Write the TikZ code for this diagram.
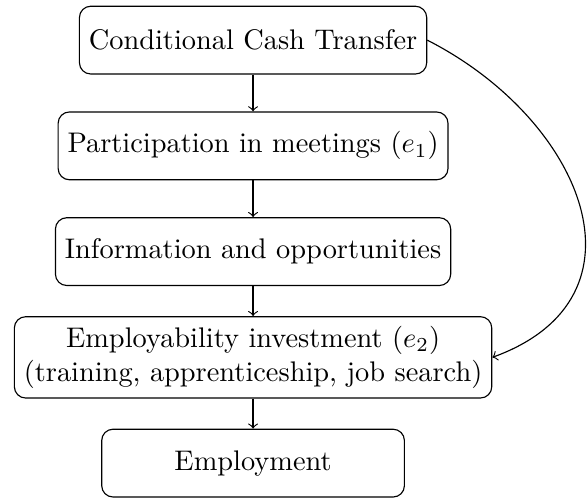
\documentclass[tikz,border=0pt]{standalone}
\usepackage{amsmath}
\usepackage{xcolor}
\tikzset{
  box/.style={draw,rounded corners,align=center,minimum width=3.75cm,minimum height=0.84cm},
  connect arrow/.style={->}
}

\begin{document}
\begin{tikzpicture}
\useasboundingbox (-3.135,0.497) rectangle (4.137,-5.66);
\path
(0,0)      node[box] (cct)  {Conditional Cash Transfer}
+(0,-1.31) node[box] (meet) {Participation in meetings ($e_1$)}
+(0,-2.62) node[box] (info) {Information and opportunities}
+(0,-3.93) node[box] (inv)  {Employability investment ($e_2$)\\(training, apprenticeship, job search)}
+(0,-5.24) node[box] (emp)  {Employment};
\draw[connect arrow] (cct)--(meet);
\draw[connect arrow] (meet)--(info);
\draw[connect arrow] (info)--(inv);
\draw[connect arrow] (inv)--(emp);
\draw[connect arrow] (cct.east) to[out=-27,in=20,looseness=1.38] (inv.east);
\end{tikzpicture}
\end{document}
